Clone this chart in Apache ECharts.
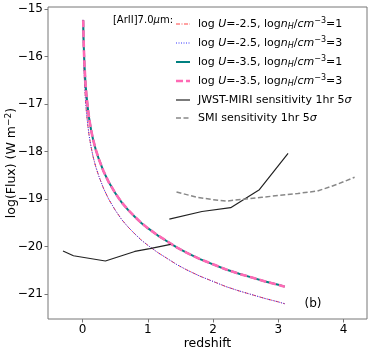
<!DOCTYPE html>
<html>
<head>
<meta charset="utf-8">
<script src="https://cdn.jsdelivr.net/npm/echarts@6/dist/echarts.min.js"></script>
<style>
  html, body { margin: 0; padding: 0; background: #fff; }
  #main { width: 374px; height: 353px; }
</style>
</head>
<body>
<div id="main"></div>
<script>
// [ArII] 7.0um model curves
const zHigh = [0.01, 0.015, 0.02, 0.03, 0.045, 0.06, 0.08, 0.1, 0.13, 0.16, 0.2, 0.25, 0.32, 0.4, 0.5, 0.6, 0.7, 0.8, 0.9, 1.0, 1.15, 1.3, 1.45, 1.6, 1.8, 2.0, 2.2, 2.4, 2.6, 2.8, 3.0, 3.1]
const fluxU35 = [-15.24, -15.59, -15.85, -16.20, -16.57, -16.82, -17.08, -17.30, -17.54, -17.74, -17.95, -18.16, -18.41, -18.64, -18.87, -19.07, -19.23, -19.37, -19.50, -19.61, -19.76, -19.89, -20.02, -20.13, -20.26, -20.37, -20.48, -20.57, -20.65, -20.73, -20.80, -20.84]
const zLow = [0.0066, 0.01, 0.015, 0.02, 0.03, 0.045, 0.06, 0.08, 0.1, 0.13, 0.16, 0.2, 0.25, 0.32, 0.4, 0.5, 0.6, 0.7, 0.8, 0.9, 1.0, 1.15, 1.3, 1.45, 1.6, 1.8, 2.0, 2.2, 2.4, 2.6, 2.8, 3.0, 3.1]
const fluxU25 = [-15.23, -15.60, -15.95, -16.21, -16.56, -16.93, -17.18, -17.44, -17.66, -17.90, -18.10, -18.31, -18.52, -18.77, -19.00, -19.23, -19.43, -19.59, -19.73, -19.86, -19.97, -20.12, -20.25, -20.38, -20.49, -20.62, -20.73, -20.84, -20.93, -21.01, -21.09, -21.16, -21.20]

// sensitivity curves (null = gap in the line)
const jwstZ = [-0.30, -0.14, 0.35, 0.80, 1.03, 1.35, null, 1.33, 1.83, 2.27, 2.71, 3.15]
const jwstFlux = [-20.09, -20.19, -20.30, -20.10, -20.04, -19.95, null, -19.42, -19.26, -19.18, -18.80, -18.04]
const smiZ = [1.44, 1.75, 2.0, 2.21, 2.47, 2.75, 3.03, 3.3, 3.6, 3.9, 4.17]
const smiFlux = [-18.85, -18.96, -19.01, -19.04, -19.00, -18.96, -18.92, -18.88, -18.83, -18.69, -18.54]

const xTicks = [0, 1, 2, 3, 4]
const yTicks = [-21, -20, -19, -18, -17, -16, -15]

const FONT = 'DejaVu Sans'
const zip = (xs, ys) => xs.map((x, i) => (x === null ? [null, '-'] : [x, ys[i]]))
const minus = v => String(v).replace('-', '\u2212')

const mathLabel = (u, n) =>
  '{n|log }{i|U}{n|=' + u + ', log}{i|n}{sub|H}{n|/}{i|cm}{sup|\u22123}{n|=' + n + '}'

// series look + legend text, in legend order
const lines = [
  { label: mathLabel('-2.5', 1), x: zLow, y: fluxU25, color: '#ff4444', width: 1, dash: [4, 1.5, 1, 1.5] },
  { label: mathLabel('-2.5', 3), x: zLow, y: fluxU25, color: '#3333ff', width: 1, dash: [1, 1.5] },
  { label: mathLabel('-3.5', 1), x: zHigh, y: fluxU35, color: '#008080', width: 2, dash: null },
  { label: mathLabel('-3.5', 3), x: zHigh, y: fluxU35, color: '#ff69b4', width: 2.6, dash: [7, 3] },
  { label: '{n|JWST-MIRI sensitivity 1hr 5}{i|\u03c3}', x: jwstZ, y: jwstFlux, color: '#222', width: 1.2, dash: null },
  { label: '{n|SMI sensitivity 1hr 5}{i|\u03c3}', x: smiZ, y: smiFlux, color: '#888', width: 1.5, dash: [5, 2.5] }
]

const legendRich = {
  n: { fontFamily: FONT, fontSize: 11, lineHeight: 14, fill: '#000' },
  i: { fontFamily: FONT, fontSize: 11, lineHeight: 14, fontStyle: 'italic', fill: '#000' },
  sub: { fontFamily: FONT, fontSize: 8, lineHeight: 8, fontStyle: 'italic', padding: [6, 0, 0, 0], fill: '#000' },
  sup: { fontFamily: FONT, fontSize: 8, lineHeight: 8, padding: [0, 0, 6, 0], fill: '#000' }
}
const legendY = [24, 43, 62, 81, 100, 118]

const legendGraphics = []
lines.forEach((l, k) => {
  legendGraphics.push({
    type: 'line',
    shape: { x1: 176, y1: legendY[k], x2: 190, y2: legendY[k] },
    style: { stroke: l.color, lineWidth: l.width, lineDash: l.dash }
  })
  legendGraphics.push({
    type: 'text',
    x: 198, y: legendY[k],
    style: { text: l.label, fontFamily: FONT, fontSize: 11, fill: '#000', verticalAlign: 'middle', rich: legendRich }
  })
})

const chart = echarts.init(document.getElementById('main'))
chart.setOption({
  animation: false,
  grid: {
    left: 48, right: 7, top: 7, bottom: 34,
    containLabel: false, outerBoundsMode: 'none',
    show: true, borderColor: '#777', borderWidth: 1
  },
  xAxis: {
    type: 'value',
    min: -0.53, max: 4.36,
    name: 'redshift',
    nameLocation: 'middle',
    nameGap: 18,
    nameMoveOverlap: false,
    nameTextStyle: { fontFamily: FONT, fontSize: 12.5, color: '#000', verticalAlign: 'top' },
    axisLine: { show: false, onZero: false },
    axisTick: { show: true, inside: false, length: 3.5, lineStyle: { color: '#777' }, customValues: xTicks },
    axisLabel: { fontFamily: FONT, fontSize: 12, color: '#000', margin: 5, customValues: xTicks, formatter: minus },
    splitLine: { show: false }
  },
  yAxis: {
    type: 'value',
    min: -21.52, max: -14.96,
    name: '{a|log(Flux) (W m}{s|\u22122}{a|)}',
    nameLocation: 'middle',
    nameGap: 28,
    nameMoveOverlap: false,
    nameTextStyle: {
      fontFamily: FONT, color: '#000',
      rich: {
        a: { fontFamily: FONT, fontSize: 12.5, lineHeight: 16, color: '#000' },
        s: { fontFamily: FONT, fontSize: 9, lineHeight: 9, padding: [0, 0, 7, 0], color: '#000' }
      }
    },
    axisLine: { show: false, onZero: false },
    axisTick: { show: true, inside: false, length: 3.5, lineStyle: { color: '#777' }, customValues: yTicks },
    axisLabel: { fontFamily: FONT, fontSize: 12, color: '#000', margin: 5, customValues: yTicks, formatter: minus },
    splitLine: { show: false }
  },
  graphic: [
    {
      type: 'text',
      x: 173, y: 20,
      style: {
        text: '[ArII]7.0{i|\u03bc}m:',
        fontFamily: FONT, fontSize: 10, fill: '#000',
        align: 'right', verticalAlign: 'middle',
        rich: { i: { fontFamily: FONT, fontSize: 10, fontStyle: 'italic', fill: '#000' } }
      }
    },
    {
      type: 'text',
      x: 313, y: 304,
      style: { text: '(b)', fontFamily: FONT, fontSize: 12, fill: '#000', align: 'center', verticalAlign: 'middle' }
    }
  ].concat(legendGraphics),
  series: lines.map(l => ({
    type: 'line',
    symbol: 'none',
    connectNulls: false,
    data: zip(l.x, l.y),
    lineStyle: { color: l.color, width: l.width, type: l.dash || 'solid' }
  }))
})
</script>
</body>
</html>
